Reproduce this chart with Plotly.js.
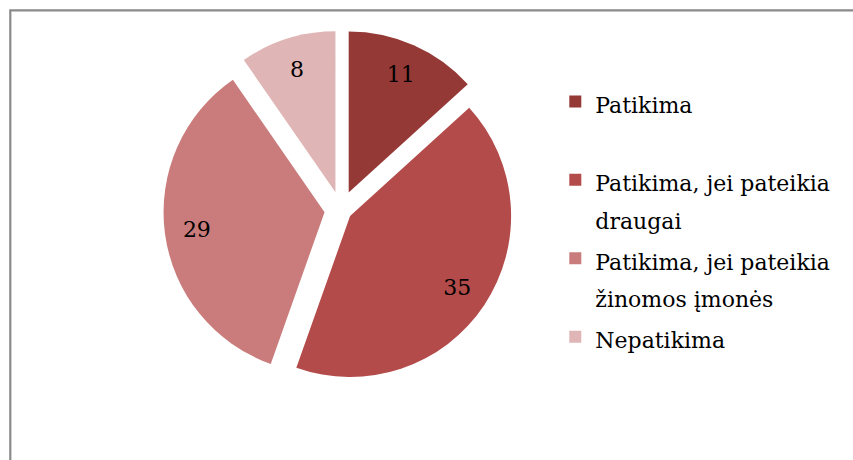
<!DOCTYPE html>
<html>
<head>
<meta charset="utf-8">
<script src="https://cdn.plot.ly/plotly-3.0.1.min.js"></script>
<style>
  html, body { margin: 0; padding: 0; background: #ffffff; }
  #chart { width: 853px; height: 460px; }
</style>
</head>
<body>
<div id="chart"></div>
<script>
// Survey answers: how trustworthy the respondents find the information
const categories = [
  ['Patikima'],
  ['Patikima, jei pateikia', 'draugai'],
  ['Patikima, jei pateikia', 'žinomos įmonės'],
  ['Nepatikima']
];
const values = [11, 35, 29, 8];
const sliceColors = ['#953937', '#B34B4A', '#C97C7B', '#E0B5B5'];
const explode = [0.118, 0.068, 0.103, 0.115];

const FONT = 'DejaVu Serif';
const TEXT_PX = 22;

// legend entries: every entry takes two lines so the spacing stays even
const legendLabels = categories.map(function (lines) {
  const shown = lines.map(function (l) {
    return '<span style="font-size:' + TEXT_PX + 'px">' + l + '</span>';
  });
  if (shown.length < 2) shown.push(' ');
  return shown.join('<br>');
});

const domain = { x: [0.1887, 0.6108], y: [0.1522, 0.9348] };

// filled slices
const slices = {
  type: 'pie',
  labels: legendLabels,
  values: values,
  sort: false,
  direction: 'clockwise',
  rotation: 0,
  pull: explode,
  domain: domain,
  marker: { colors: sliceColors, line: { width: 0 } },
  textinfo: 'none',
  hoverinfo: 'skip',
  showlegend: true
};

// value labels, laid out in an outer ring so they sit near the rim
const valueLabels = {
  type: 'pie',
  labels: legendLabels,
  values: values,
  sort: false,
  direction: 'clockwise',
  rotation: 0,
  pull: explode,
  hole: 0.6,
  domain: domain,
  marker: { colors: values.map(function () { return 'rgba(0,0,0,0)'; }), line: { width: 0 } },
  texttemplate: '%{value}',
  textposition: 'inside',
  insidetextorientation: 'horizontal',
  insidetextfont: { family: FONT, size: TEXT_PX, color: '#000000' },
  hoverinfo: 'skip',
  showlegend: false
};

const layout = {
  width: 853,
  height: 460,
  margin: { l: 0, r: 0, t: 0, b: 0 },
  paper_bgcolor: '#ffffff',
  showlegend: true,
  legend: {
    x: 0.651,
    xanchor: 'left',
    y: 0.8346,
    yanchor: 'top',
    valign: 'top',
    font: { family: FONT, size: 29, color: '#000000' },
    bgcolor: 'rgba(0,0,0,0)',
    borderwidth: 0
  },
  shapes: [{
    type: 'rect',
    xref: 'paper', yref: 'paper',
    x0: 10.3 / 853, x1: 1.2,
    y0: -0.2, y1: (460 - 10.3) / 460,
    line: { color: '#8a8a8a', width: 2.2 },
    fillcolor: 'rgba(0,0,0,0)'
  }]
};

Plotly.newPlot('chart', [slices, valueLabels], layout, { staticPlot: true, displayModeBar: false });
</script>
</body>
</html>
